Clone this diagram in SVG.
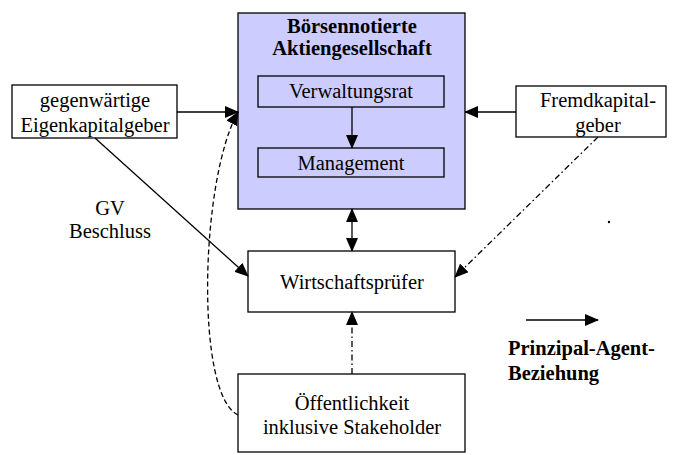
<svg xmlns="http://www.w3.org/2000/svg" width="675" height="455" viewBox="0 0 675 455">
<style>
.box{fill:#fff;stroke:#000;stroke-width:1.3}
text{font-family:'Liberation Serif','Times New Roman',Times,serif;font-size:20.5px;fill:#000;text-anchor:middle}
.b{font-weight:bold}
.ln{fill:none;stroke:#000;stroke-width:1.3}
.dd{stroke-dasharray:6 3 1.5 3}
.ds{stroke-dasharray:5 3}
</style>
<defs>
<marker id="ah" markerUnits="userSpaceOnUse" markerWidth="14" markerHeight="12" refX="13" refY="6" orient="auto-start-reverse" viewBox="0 0 14 12">
<path d="M0,0 L14,6 L0,12 z" fill="#000"/>
</marker>
</defs>
<rect width="675" height="455" fill="#fff"/>
<g id="ag">
<rect x="238" y="13" width="227" height="196" fill="#ccccff" stroke="#000" stroke-width="1.3"/>
<text class="b" x="352" y="33">Börsennotierte</text>
<text class="b" x="352" y="55">Aktiengesellschaft</text>
</g>
<g id="vr">
<rect class="box" x="258" y="76" width="186" height="31" style="fill:#ccccff"/>
<text x="351" y="98">Verwaltungsrat</text>
</g>
<g id="mg">
<rect class="box" x="258" y="148" width="186" height="29" style="fill:#ccccff"/>
<text x="351" y="170">Management</text>
</g>
<g id="ekg">
<rect class="box" x="12" y="85" width="165" height="53"/>
<text x="95" y="107">gegenwärtige</text>
<text x="95" y="132">Eigenkapitalgeber</text>
</g>
<g id="fkg">
<rect class="box" x="516" y="86" width="150" height="51"/>
<text x="598" y="107">Fremdkapital-</text>
<text x="598" y="132">geber</text>
</g>
<g id="wp">
<rect class="box" x="248" y="251" width="207" height="61"/>
<text x="352" y="289">Wirtschaftsprüfer</text>
</g>
<g id="oe">
<rect class="box" x="238" y="374" width="227" height="78"/>
<text x="352" y="410">Öffentlichkeit</text>
<text x="352" y="434">inklusive Stakeholder</text>
</g>
<g id="gv">
<text x="110" y="215">GV</text>
<text x="110" y="238">Beschluss</text>
</g>
<g id="legend">
<line class="ln" x1="526" y1="320" x2="598" y2="320" marker-end="url(#ah)"/>
<text class="b" x="508" y="355" style="text-anchor:start">Prinzipal-Agent-</text>
<text class="b" x="508" y="380" style="text-anchor:start">Beziehung</text>
</g>
<g id="connectors">
<line class="ln" x1="352" y1="107" x2="352" y2="148" marker-end="url(#ah)"/>
<line class="ln" x1="177" y1="112" x2="238" y2="112" marker-end="url(#ah)"/>
<line class="ln" x1="516" y1="112" x2="465" y2="112" marker-end="url(#ah)"/>
<line class="ln" x1="352" y1="209" x2="352" y2="251" marker-start="url(#ah)" marker-end="url(#ah)"/>
<line class="ln" x1="95" y1="138" x2="248" y2="276" marker-end="url(#ah)"/>
<line class="ln dd" x1="598" y1="137" x2="455" y2="277" marker-end="url(#ah)"/>
<line class="ln dd" x1="352" y1="374" x2="352" y2="312" marker-end="url(#ah)"/>
<path class="ln ds" d="M238,415 C195,395 200,180 238,112" marker-end="url(#ah)"/>
<circle cx="609" cy="222" r="1.2" fill="#000"/>
</g>
</svg>
